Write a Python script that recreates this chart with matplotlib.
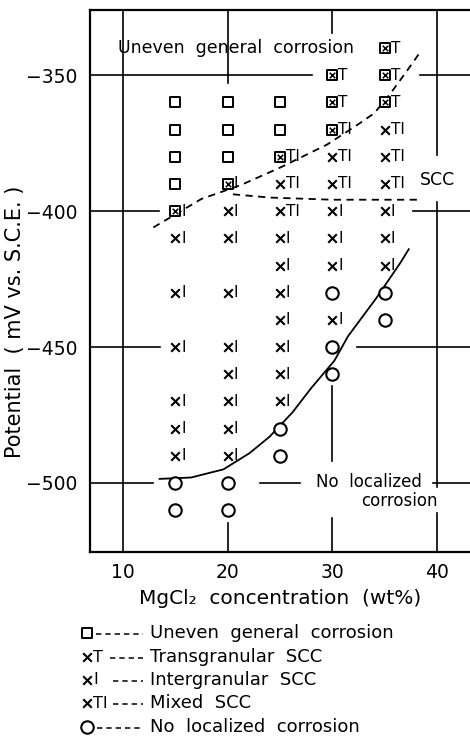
import matplotlib
matplotlib.use("Agg")
import matplotlib.pyplot as plt

# measured points: MgCl2 concentration (wt%), potential (mV vs SCE), observed type
# U = uneven general corrosion, T = transgranular, I = intergranular, N = none
conc = [15, 15, 15, 15, 15, 15, 15, 15, 15, 15, 15, 15, 15,
        20, 20, 20, 20, 20, 20, 20, 20, 20, 20, 20, 20, 20, 20,
        25, 25, 25, 25, 25, 25, 25, 25, 25, 25, 25, 25, 25, 25,
        30, 30, 30, 30, 30, 30, 30, 30, 30, 30, 30, 30,
        35, 35, 35, 35, 35, 35, 35, 35, 35, 35, 35]
potential = [-360, -370, -380, -390, -400, -410, -430, -450, -470, -480, -490, -500, -510,
             -360, -370, -380, -390, -400, -410, -430, -450, -460, -470, -480, -490, -500, -510,
             -360, -370, -380, -390, -400, -410, -420, -430, -440, -450, -460, -470, -480, -490,
             -350, -360, -370, -380, -390, -400, -410, -420, -430, -440, -450, -460,
             -340, -350, -360, -370, -380, -390, -400, -410, -420, -430, -440]
kind = ['U', 'U', 'U', 'U', 'UI', 'I', 'I', 'I', 'I', 'I', 'I', 'N', 'N',
        'U', 'U', 'U', 'UI', 'I', 'I', 'I', 'I', 'I', 'I', 'I', 'I', 'N', 'N',
        'U', 'U', 'UTI', 'TI', 'TI', 'I', 'I', 'I', 'I', 'I', 'I', 'I', 'N', 'N',
        'UT', 'UT', 'UTI', 'TI', 'TI', 'I', 'I', 'I', 'N', 'I', 'N', 'N',
        'UT', 'UT', 'UT', 'TI', 'TI', 'TI', 'I', 'I', 'I', 'N', 'N']

# boundary curves
uneven_x = [12.9, 17.5, 21.2, 25.0, 29.5, 32.3, 34.0, 35.5, 37.2, 38.3]
uneven_y = [-406, -395.5, -390.5, -384, -375.5, -368.5, -364, -357, -348, -342]
scc_x = [20.5, 24.0, 30.0, 38.2]
scc_y = [-393.8, -395.0, -395.8, -395.8]
noloc_x = [13.5, 16.5, 19.6, 22.1, 24.0, 26.2, 28.0, 30.2, 31.5, 34.2, 36.5, 37.3]
noloc_y = [-498.5, -498, -495, -489, -483, -474, -465, -455, -446, -432, -419, -414]

xticks = [10, 20, 30, 40]
yticks = [-350, -400, -450, -500]

legend_kinds = ['U', 'T', 'I', 'TI', 'N']
legend_labels = ['Uneven  general  corrosion', 'Transgranular  SCC',
                 'Intergranular  SCC', 'Mixed  SCC', 'No  localized  corrosion']

XMIN, XMAX = 6.85, 43.15
YMIN, YMAX = -525.4, -326.0

plt.rcParams['font.family'] = ['DejaVu Sans']

fig = plt.figure(figsize=(4.7, 7.54), dpi=100)
ax = fig.add_axes([90 / 470, 1 - 552 / 754, 380 / 470, 542 / 754])
ax.set_xlim(XMIN, XMAX)
ax.set_ylim(YMIN, YMAX)

# hand-broken grid lines as in the drawing
hgrid = {-350: [(XMIN, 28.1), (38.4, XMAX)],
         -400: [(XMIN, 13.4), (37.7, XMAX)],
         -450: [(XMIN, 13.5), (32.4, XMAX)],
         -500: [(XMIN, 12.9), (23.1, 26.9), (39.6, XMAX)]}
vgrid = {10: [(YMIN, YMAX)],
         20: [(YMIN, -514.7), (-353, YMAX)],
         30: [(YMIN, -513), (-492, -464.5), (-334.5, YMAX)],
         40: [(YMIN, -511), (-501.5, -396.7), (-379.4, YMAX)]}
for yv, segs in hgrid.items():
    for a, b in segs:
        ax.plot([a, b], [yv, yv], color='black', lw=1.2, zorder=1)
for xv, segs in vgrid.items():
    for a, b in segs:
        ax.plot([xv, xv], [a, b], color='black', lw=1.2, zorder=1)

ax.plot(uneven_x, uneven_y, color='black', lw=1.3, ls=(0, (4, 3)), zorder=2)
ax.plot(scc_x, scc_y, color='black', lw=1.3, ls=(0, (4, 3)), zorder=2)
ax.plot(noloc_x, noloc_y, color='black', lw=1.3, zorder=2)


def draw_symbol(a, x, y, k, fs=11):
    if k.startswith('U'):
        a.scatter([x], [y], marker='s', s=50, facecolor='white', edgecolor='black',
                  lw=1.4, zorder=4, clip_on=False)
        if len(k) > 1:
            a.scatter([x], [y], marker='x', s=16, color='black', lw=1.1, zorder=5,
                      clip_on=False)
        suffix = k[1:]
    elif k == 'N':
        a.scatter([x], [y], marker='o', s=80, facecolor='white', edgecolor='black',
                  lw=1.5, zorder=4, clip_on=False)
        suffix = ''
    else:
        a.scatter([x], [y], marker='x', s=38, color='black', lw=1.5, zorder=4,
                  clip_on=False)
        suffix = k
    if suffix:
        a.annotate(suffix, (x, y), xytext=(4.3, 0), textcoords='offset points',
                   ha='left', va='center', fontsize=fs, zorder=5)


for x, y, k in zip(conc, potential, kind):
    draw_symbol(ax, x, y, k)

ax.text(9.5, -340, 'Uneven  general  corrosion', fontsize=12.5, ha='left', va='center')
ax.text(40.0, -388.5, 'SCC', fontsize=12.5, ha='center', va='center')
ax.text(33.5, -499.5, 'No  localized', fontsize=12, ha='center', va='center')
ax.text(36.4, -506.8, 'corrosion', fontsize=12, ha='center', va='center')

ax.spines['right'].set_visible(False)
for s in ['left', 'top', 'bottom']:
    ax.spines[s].set_linewidth(1.6)
ax.set_xticks(xticks)
ax.set_yticks(yticks)
ax.set_xticklabels([str(v) for v in xticks])
ax.set_yticklabels(['\u2212' + str(-v) for v in yticks])
ax.tick_params(length=0, labelsize=13.5)
ax.tick_params(axis='y', pad=9)
ax.tick_params(axis='x', pad=8)
ax.set_xlabel('MgCl₂  concentration  (wt%)', fontsize=14.5, labelpad=5)
ax.set_ylabel('Potential  ( mV vs. S.C.E. )', fontsize=15)
ax.yaxis.set_label_coords(-0.17, 0.425)

# legend block below the chart
lg = fig.add_axes([0, 0, 1, 1], zorder=-1)
lg.set_xlim(0, 470)
lg.set_ylim(754, 0)
lg.axis('off')
row_y = [633, 657, 680, 703, 727]
dash_start = [96, 110, 113, 113, 97]
for yy, k, x0, lab in zip(row_y, legend_kinds, dash_start, legend_labels):
    draw_symbol(lg, 87, yy, k, fs=11.5)
    lg.plot([x0, 143], [yy + 1, yy + 1], color='black', lw=1.1, ls=(0, (3.5, 2.6)))
    lg.text(150, yy, lab, fontsize=13, ha='left', va='center')

fig.savefig('out.png', dpi=100)
